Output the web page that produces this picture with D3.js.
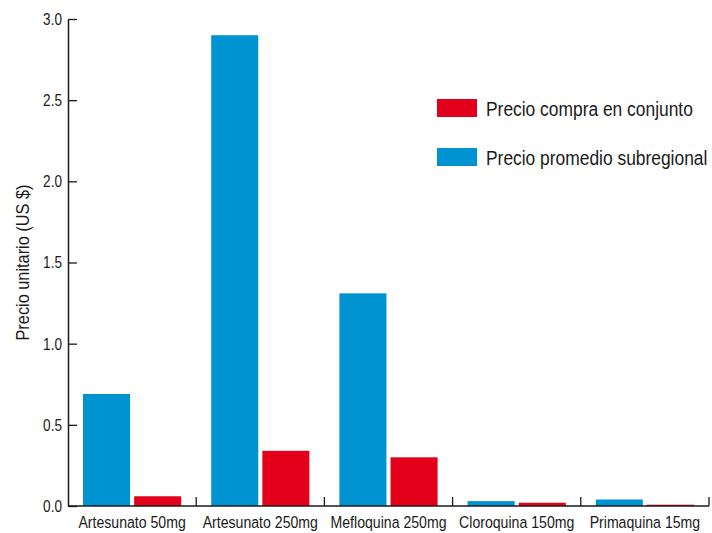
<!DOCTYPE html>
<html lang="es">
<head>
<meta charset="utf-8">
<title>Precio unitario</title>
<script src="https://cdn.jsdelivr.net/npm/d3@7"></script>
<style>
  body { margin: 0; background: #fff; }
  text { font-family: "Liberation Sans", Arial, sans-serif; fill: #1a1a1a; }
</style>
</head>
<body>
<script>
// datos
var categorias = ["Artesunato 50mg", "Artesunato 250mg", "Mefloquina 250mg", "Cloroquina 150mg", "Primaquina 15mg"];
var series = ["Precio promedio subregional", "Precio compra en conjunto"];
var promedio = [0.69, 2.90, 1.31, 0.03, 0.04];
var conjunto = [0.06, 0.34, 0.30, 0.02, 0.008];
var yTicks = [0, 0.5, 1.0, 1.5, 2.0, 2.5, 3.0];
var colores = ["#0093d1", "#e2001a"];

var width = 712, height = 533;
var m = {top: 19, right: 3, bottom: 27, left: 68};

// letra estrecha: texto en (x,y) comprimido horizontalmente con scale
function estrecha(g, x, y, f) {
  return g.append("g").attr("transform", "translate(" + x + "," + y + ") scale(" + f + ",1)")
    .append("text");
}

var svg = d3.select("body").append("svg")
    .attr("width", width).attr("height", height);

var x0 = d3.scaleBand().domain(categorias).range([m.left, width - m.right]).padding(0);
var bw = x0.bandwidth();
var x1 = d3.scaleBand().domain(series).range([bw * 0.117, bw * 0.883]).paddingInner(0.08);
var y = d3.scaleLinear().domain([0, 3]).range([height - m.bottom, m.top]);

var filas = categorias.map(function(c, i) {
  return {cat: c, vals: [promedio[i], conjunto[i]]};
});

var g = svg.append("g").selectAll("g")
  .data(filas)
  .enter().append("g")
    .attr("transform", d => "translate(" + x0(d.cat) + ",0)");

g.selectAll("rect")
  .data(d => d.vals.map((v, j) => ({s: series[j], v: v, j: j})))
  .enter().append("rect")
    .attr("x", d => x1(d.s))
    .attr("width", x1.bandwidth())
    .attr("y", d => y(d.v))
    .attr("height", d => y(0) - y(d.v))
    .attr("fill", d => colores[d.j]);

// eje y
var ay = svg.append("g")
    .attr("transform", "translate(" + m.left + ",0)")
    .call(d3.axisLeft(y).tickValues(yTicks).tickFormat("").tickSizeInner(-9).tickSizeOuter(0));
ay.select(".domain").attr("stroke", "#1a1a1a").attr("stroke-width", 1.5);
ay.selectAll(".tick line").attr("stroke", "#1a1a1a").attr("stroke-width", 1.3);
yTicks.forEach(function(t) {
  estrecha(svg, m.left - 6, y(t), 0.8)
    .attr("text-anchor", "end")
    .attr("dy", "0.35em")
    .attr("font-size", 17)
    .text(d3.format(".1f")(t));
});

// eje x
var ax = svg.append("g")
    .attr("transform", "translate(0," + y(0) + ")");
ax.append("line")
    .attr("x1", m.left).attr("x2", width - m.right)
    .attr("stroke", "#1a1a1a").attr("stroke-width", 1.5);
ax.selectAll("line.sep")
  .data(categorias)
  .enter().append("line")
    .attr("class", "sep")
    .attr("x1", d => x0(d) + bw).attr("x2", d => x0(d) + bw)
    .attr("y1", 0).attr("y2", -9)
    .attr("stroke", "#1a1a1a").attr("stroke-width", 1.3);
categorias.forEach(function(c) {
  estrecha(ax, x0(c) + bw / 2, 22, 0.83)
    .attr("text-anchor", "middle")
    .attr("font-size", 17)
    .text(c);
});

// titulo eje y
svg.append("g")
    .attr("transform", "translate(29," + ((m.top + height - m.bottom) / 2) + ") rotate(-90) scale(0.86,1)")
  .append("text")
    .attr("text-anchor", "middle")
    .attr("font-size", 19)
    .text("Precio unitario (US $)");

// leyenda
var leyenda = [
  {t: "Precio compra en conjunto", c: colores[1]},
  {t: "Precio promedio subregional", c: colores[0]}
];
leyenda.forEach(function(d, i) {
  var lg = svg.append("g").attr("transform", "translate(437," + (99 + i * 49) + ")");
  lg.append("rect").attr("width", 40).attr("height", 18).attr("fill", d.c);
  estrecha(lg, 49, 17, 0.87).attr("font-size", 20).text(d.t);
});
</script>
</body>
</html>
